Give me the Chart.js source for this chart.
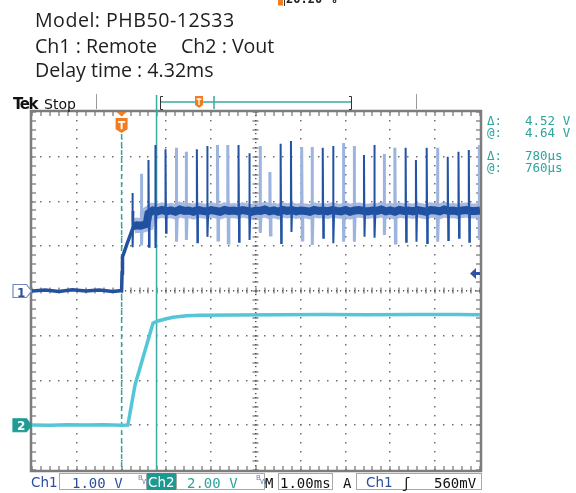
<!DOCTYPE html>
<html>
<head>
<meta charset="utf-8">
<title>PHB50-12S33 delay time</title>
<script src="https://cdn.jsdelivr.net/npm/chart.js@4.4.1/dist/chart.umd.min.js"></script>
<style>
  html, body { margin: 0; padding: 0; background: #fff; }
  #page { position: relative; width: 576px; height: 493px; overflow: hidden; }
  #scope { position: absolute; left: 0; top: 0; }
  .t { position: absolute; white-space: pre; line-height: 1; }
  .info { font-family: "Open Sans", sans-serif; font-size: 19.6px; color: #1e1e1e; }
  .mono { font-family: "DejaVu Sans Mono", monospace; }
  .meas { font-family: "DejaVu Sans Mono", monospace; font-size: 12.5px; color: #2fa39c; }
  .bar { font-family: "DejaVu Sans Mono", monospace; font-size: 14px; top: 476px; }
  .bw { font-family: "DejaVu Sans", sans-serif; font-size: 7px; color: #6a86b8; }
  .box { position: absolute; border: 1px solid #a8a8a8; box-sizing: border-box; top: 473px; height: 17px; }
</style>
</head>
<body>
<div id="page">
  <canvas id="scope" width="576" height="493"></canvas>

  <div class="t mono" style="left:286px;top:-7px;font-size:12px;font-weight:bold;color:#222">20.20 %</div>
  <div class="t info" style="left:35px;top:10px;letter-spacing:0.5px">Model: PHB50-12S33</div>
  <div class="t info" style="left:35px;top:36px">Ch1 : Remote</div>
  <div class="t info" style="left:181px;top:36px">Ch2 : Vout</div>
  <div class="t info" style="left:35px;top:60px">Delay time : 4.32ms</div>

  <div class="t" style="left:13px;top:95px;font:bold 15px 'DejaVu Sans';letter-spacing:-1.5px;color:#111">Tek</div>
  <div class="t" style="left:44px;top:96px;font:14px 'DejaVu Sans';color:#111">Stop</div>

  <div class="t meas" style="left:487px;top:115px">Δ:</div>
  <div class="t meas" style="left:525px;top:115px">4.52 V</div>
  <div class="t meas" style="left:487px;top:127px">@:</div>
  <div class="t meas" style="left:525px;top:127px">4.64 V</div>
  <div class="t meas" style="left:487px;top:150px">Δ:</div>
  <div class="t meas" style="left:525px;top:150px">780µs</div>
  <div class="t meas" style="left:487px;top:162px">@:</div>
  <div class="t meas" style="left:525px;top:162px">760µs</div>

  <div class="t" style="left:17px;top:286px;font:bold 12px 'DejaVu Sans';color:#2c4e9b">1</div>
  <div class="t" style="left:17px;top:419px;font:bold 12px 'DejaVu Sans';color:#fff">2</div>

  <div class="box" style="left:59px;width:88px"></div>
  <div class="box" style="left:147px;width:29px;background:#1c9a92;border-color:#1c9a92"></div>
  <div class="box" style="left:176px;width:89px"></div>
  <div class="box" style="left:278px;width:55px"></div>
  <div class="box" style="left:356px;width:126px"></div>
  <div class="t bar" style="left:31px;font-family:'DejaVu Sans';font-size:13.5px;color:#2c4e9b">Ch1</div>
  <div class="t bar" style="left:72px;color:#2c4e9b">1.00 V</div>
  <div class="t bw" style="left:138px;top:475px">B</div>
  <div class="t bw" style="left:142px;top:479px">W</div>
  <div class="t bar" style="left:148px;font-family:'DejaVu Sans';font-size:13.5px;color:#fff">Ch2</div>
  <div class="t bar" style="left:187px;color:#2ba39b">2.00 V</div>
  <div class="t bw" style="left:256px;top:475px">B</div>
  <div class="t bw" style="left:260px;top:479px">W</div>
  <div class="t bar" style="left:265px;color:#111">M</div>
  <div class="t bar" style="left:280px;color:#111">1.00ms</div>
  <div class="t bar" style="left:343px;color:#111">A</div>
  <div class="t bar" style="left:366px;font-family:'DejaVu Sans';font-size:13.5px;color:#2c4e9b">Ch1</div>
  <div class="t bar" style="left:402px;color:#111">ʃ</div>
  <div class="t bar" style="left:434px;color:#111">560mV</div>
</div>

<script>
// time axis: 1.00 ms/div, 10 div, trigger 3 div left of centre
var xMin = -5, xMax = 5;
var yDivs = 4;

// channel settings (V/div, ground position in div)
var ch1Scale = 1.00, ch1Offset = 0;
var ch2Scale = 2.00, ch2Offset = -3;

// cursors (ms)
var trigTime = -3.00;
var cursorTime = -2.22;
var trigLevelDiv = 0.39;

// Ch1 : Remote  -- baseline and edge (V)
var ch1Time = [-5.00, -4.70, -4.40, -4.10, -3.80, -3.50, -3.20, -3.00, -2.99, -2.98, -2.88, -2.74];
var ch1Volt = [0.00, 0.02, -0.01, 0.03, 0.00, 0.02, -0.01, 0.01, 0.40, 0.76, 1.05, 1.43];

// Ch1 settled level with noise (V)
var ch1BandTime = [
  -2.74, -2.66, -2.58, -2.50, -2.44, -2.40, -2.30, -2.20, -2.10, -2.00,
  -1.90, -1.80, -1.70, -1.60, -1.50, -1.40, -1.30, -1.20, -1.10, -1.00,
  -0.90, -0.80, -0.70, -0.60, -0.50, -0.40, -0.30, -0.20, -0.10, 0.00,
  0.10, 0.20, 0.30, 0.40, 0.50, 0.60, 0.70, 0.80, 0.90, 1.00,
  1.10, 1.20, 1.30, 1.40, 1.50, 1.60, 1.70, 1.80, 1.90, 2.00,
  2.10, 2.20, 2.30, 2.40, 2.50, 2.60, 2.70, 2.80, 2.90, 3.00,
  3.10, 3.20, 3.30, 3.40, 3.50, 3.60, 3.70, 3.80, 3.90, 4.00,
  4.10, 4.20, 4.30, 4.40, 4.50, 4.60, 4.70, 4.80, 4.90, 5.00
];
var ch1BandVolt = [
  1.45, 1.47, 1.46, 1.48, 1.50, 1.73, 1.80, 1.78, 1.81, 1.78,
  1.80, 1.77, 1.82, 1.79, 1.80, 1.77, 1.81, 1.79, 1.78, 1.81,
  1.79, 1.77, 1.81, 1.79, 1.80, 1.78, 1.81, 1.79, 1.77, 1.80,
  1.79, 1.82, 1.78, 1.80, 1.77, 1.81, 1.79, 1.81, 1.78, 1.80,
  1.79, 1.77, 1.81, 1.79, 1.80, 1.78, 1.81, 1.79, 1.78, 1.81,
  1.77, 1.80, 1.81, 1.79, 1.78, 1.80, 1.79, 1.82, 1.78, 1.80,
  1.77, 1.81, 1.79, 1.80, 1.78, 1.81, 1.79, 1.77, 1.81, 1.80,
  1.78, 1.82, 1.79, 1.80, 1.78, 1.80, 1.81, 1.79, 1.79, 1.80
];
var ch1Level = 1.79;

// Ch1 switching spikes: time (ms), peak (V), dip (V), d = current / l = persistence
var ch1SpikeTime = [-2.76, -2.56, -2.40, -2.25, -2.02, -1.78, -1.56, -1.32, -1.09, -0.86, -0.63, -0.39,
  -0.15, 0.09, 0.31, 0.55, 0.78, 1.02, 1.25, 1.49, 1.72, 1.95, 2.19, 2.41,
  2.64, 2.86, 3.10, 3.34, 3.57, 3.81, 4.05, 4.28, 4.52, 4.75, 4.98];
var ch1SpikeHigh = [2.19, 2.62, 2.93, 3.26, 3.17, 3.20, 3.11, 3.17, 3.24, 3.26, 3.26, 3.26,
  3.08, 3.24, 2.66, 3.29, 3.35, 3.22, 3.22, 3.20, 3.24, 3.31, 3.24, 3.04,
  3.26, 3.06, 3.20, 3.20, 2.93, 3.20, 3.20, 3.00, 3.11, 3.15, 3.26];
var ch1SpikeLow = [0.98, 1.02, 0.99, 0.96, 1.30, 1.10, 1.14, 1.09, 1.21, 1.14, 1.07, 1.10,
  1.14, 1.30, 1.25, 1.07, 1.32, 1.14, 1.03, 1.19, 1.07, 1.10, 1.10, 1.21,
  1.19, 1.25, 1.07, 1.10, 1.10, 1.07, 1.10, 1.14, 1.19, 1.10, 1.14];
var ch1SpikeShade = ["d", "l", "d", "d", "d", "l", "l", "d", "d", "l", "l", "d",
  "d", "l", "l", "d", "d", "l", "l", "d", "d", "l", "l", "d",
  "d", "l", "l", "d", "d", "d", "l", "d", "d", "d", "l"];

// Ch2 : Vout (V)
var ch2Time = [-5.00, -4.60, -4.20, -3.80, -3.40, -3.00, -2.86, -2.70, -2.30, -2.25, -2.19, -2.00,
  -1.85, -1.55, -1.25, -0.50, 0.50, 1.50, 2.50, 3.50, 4.50, 5.00];
var ch2Volt = [0.01, 0.00, 0.02, 0.01, 0.02, 0.00, 0.01, 1.80, 4.56, 4.61, 4.66, 4.76,
  4.83, 4.89, 4.92, 4.93, 4.94, 4.95, 4.94, 4.95, 4.95, 4.94];

function toPoints(times, volts, scale, offset) {
    return times.map(function (t, i) {
        return { x: t, y: volts[i] / scale + offset };
    });
}

function spikePoints(shade) {
    var pts = [];
    for (var i = 0; i < ch1SpikeTime.length; i++) {
        if (ch1SpikeShade[i] != shade) continue;
        var t = ch1SpikeTime[i];
        pts.push({ x: t, y: ch1Level / ch1Scale + ch1Offset });
        pts.push({ x: t, y: ch1SpikeHigh[i] / ch1Scale + ch1Offset });
        pts.push({ x: t + 0.012, y: ch1SpikeLow[i] / ch1Scale + ch1Offset });
        pts.push({ x: t + 0.024, y: ch1Level / ch1Scale + ch1Offset });
        pts.push({ x: t + 0.03, y: null });
    }
    return pts;
}

function trigIcon(ctx, x, top, w, h) {
    ctx.fillStyle = "#f07d22";
    ctx.beginPath();
    ctx.moveTo(x - w / 2, top);
    ctx.lineTo(x + w / 2, top);
    ctx.lineTo(x + w / 2, top + h * 0.75);
    ctx.lineTo(x, top + h);
    ctx.lineTo(x - w / 2, top + h * 0.75);
    ctx.closePath();
    ctx.fill();
    ctx.fillStyle = "#fff";
    ctx.fillRect(x - w * 0.3, top + h * 0.2, w * 0.6, Math.max(1.2, h * 0.12));
    ctx.fillRect(x - w * 0.08, top + h * 0.2, w * 0.16, h * 0.55);
}

function chanMarker(ctx, yc, fill, stroke) {
    ctx.beginPath();
    ctx.moveTo(13, yc - 6.5);
    ctx.lineTo(26.5, yc - 6.5);
    ctx.lineTo(31.5, yc);
    ctx.lineTo(26.5, yc + 6.5);
    ctx.lineTo(13, yc + 6.5);
    ctx.closePath();
    ctx.fillStyle = fill;
    ctx.fill();
    ctx.strokeStyle = stroke;
    ctx.lineWidth = 1.2;
    ctx.stroke();
}

var scopeDeco = {
    id: "scopeDeco",
    beforeDatasetsDraw: function (chart) {
        var ctx = chart.ctx, a = chart.chartArea;
        var xs = chart.scales.x, ys = chart.scales.y;
        ctx.save();

        // dotted graticule
        ctx.fillStyle = "#707070";
        for (var d = xMin + 1; d < xMax; d++) {
            if (d == 0) continue;
            var gx = Math.round(xs.getPixelForValue(d));
            for (var k = -yDivs * 5; k <= yDivs * 5; k++) {
                ctx.fillRect(gx - 1, Math.round(ys.getPixelForValue(k / 5)) - 1, 1.5, 1.5);
            }
        }
        for (var e = -yDivs + 1; e < yDivs; e++) {
            if (e == 0) continue;
            var gy = Math.round(ys.getPixelForValue(e));
            for (var m = xMin * 5; m <= xMax * 5; m++) {
                ctx.fillRect(Math.round(xs.getPixelForValue(m / 5)) - 1, gy - 1, 1.5, 1.5);
            }
        }

        // centre lines with ticks
        var cx = Math.round(xs.getPixelForValue(0)), cy = Math.round(ys.getPixelForValue(0));
        ctx.fillStyle = "#555";
        for (var n = -yDivs * 10; n <= yDivs * 10; n++) {
            ctx.fillRect(cx - 1, Math.round(ys.getPixelForValue(n / 10)) - 1, 1.5, 1.2);
        }
        for (var p = xMin * 10; p <= xMax * 10; p++) {
            ctx.fillRect(Math.round(xs.getPixelForValue(p / 10)) - 1, cy - 1, 1.2, 1.5);
        }
        for (var q = -yDivs * 5; q <= yDivs * 5; q++) {
            var ty = Math.round(ys.getPixelForValue(q / 5));
            ctx.fillRect(cx - 3.5, ty - 0.5, 6, 1);
            ctx.fillRect(a.left, ty - 0.5, 4, 1);
            ctx.fillRect(a.right - 4, ty - 0.5, 4, 1);
        }
        for (var r = xMin * 5; r <= xMax * 5; r++) {
            var tx = Math.round(xs.getPixelForValue(r / 5));
            ctx.fillRect(tx - 0.5, cy - 3.5, 1, 6);
            ctx.fillRect(tx - 0.5, a.top, 1, 4);
            ctx.fillRect(tx - 0.5, a.bottom - 4, 1, 4);
        }

        // frame
        ctx.strokeStyle = "#7c7c7c";
        ctx.lineWidth = 2.5;
        ctx.strokeRect(a.left - 1, a.top - 1, a.right - a.left + 2, a.bottom - a.top + 2);

        // cursors
        var c1 = xs.getPixelForValue(trigTime);
        var c2 = xs.getPixelForValue(cursorTime);
        ctx.strokeStyle = "#2ea7a2";
        ctx.lineWidth = 1.5;
        ctx.setLineDash([5, 3]);
        ctx.beginPath();
        ctx.moveTo(c1, a.top + 22);
        ctx.lineTo(c1, a.bottom);
        ctx.stroke();
        ctx.setLineDash([]);
        ctx.strokeStyle = "#3fa9a3";
        ctx.beginPath();
        ctx.moveTo(c2, 95);
        ctx.lineTo(c2, a.bottom);
        ctx.stroke();
        ctx.restore();
    },
    afterDraw: function (chart) {
        var ctx = chart.ctx, a = chart.chartArea;
        var xs = chart.scales.x, ys = chart.scales.y;
        ctx.save();

        // top status bar
        ctx.strokeStyle = "#9a9a9a";
        ctx.lineWidth = 1;
        ctx.beginPath();
        ctx.moveTo(96.5, 94); ctx.lineTo(96.5, 109);
        ctx.moveTo(416.5, 94); ctx.lineTo(416.5, 109);
        ctx.stroke();
        ctx.strokeStyle = "#39a9a2";
        ctx.lineWidth = 1.5;
        ctx.beginPath();
        ctx.moveTo(161, 102); ctx.lineTo(351, 102);
        ctx.moveTo(214, 96); ctx.lineTo(214, 109);
        ctx.stroke();
        ctx.strokeStyle = "#333";
        ctx.lineWidth = 1;
        ctx.beginPath();
        ctx.moveTo(163, 96.5); ctx.lineTo(160.5, 96.5); ctx.lineTo(160.5, 109.5); ctx.lineTo(163, 109.5);
        ctx.moveTo(349, 96.5); ctx.lineTo(351.5, 96.5); ctx.lineTo(351.5, 109.5); ctx.lineTo(349, 109.5);
        ctx.stroke();
        trigIcon(ctx, 199, 96, 8, 12);
        ctx.fillStyle = "#f07d22";
        ctx.fillRect(278, 0, 5, 5.5);
        ctx.fillStyle = "#333";
        ctx.fillRect(284, 0, 1, 6);

        // trigger marker on the graticule
        var tx = xs.getPixelForValue(trigTime);
        ctx.fillStyle = "#f07d22";
        ctx.beginPath();
        ctx.moveTo(tx - 5, a.top);
        ctx.lineTo(tx + 5, a.top);
        ctx.lineTo(tx, a.top + 4.5);
        ctx.closePath();
        ctx.fill();
        trigIcon(ctx, tx, a.top + 6, 12, 15);

        // channel ground markers
        chanMarker(ctx, ys.getPixelForValue(ch1Offset), "#fff", "#6f88c4");
        chanMarker(ctx, ys.getPixelForValue(ch2Offset), "#1f9c94", "#1f9c94");

        // trigger level arrow
        var ay = ys.getPixelForValue(trigLevelDiv);
        ctx.fillStyle = "#2f54a3";
        ctx.beginPath();
        ctx.moveTo(a.right - 10, ay);
        ctx.lineTo(a.right - 4, ay - 5.5);
        ctx.lineTo(a.right - 4, ay - 1.5);
        ctx.lineTo(a.right, ay - 1.5);
        ctx.lineTo(a.right, ay + 1.5);
        ctx.lineTo(a.right - 4, ay + 1.5);
        ctx.lineTo(a.right - 4, ay + 5.5);
        ctx.closePath();
        ctx.fill();
        ctx.restore();
    }
};

var bandPoints = toPoints(ch1BandTime, ch1BandVolt, ch1Scale, ch1Offset);

new Chart(document.getElementById("scope"), {
    type: "line",
    data: {
        datasets: [
            {
                label: "Ch1 spikes",
                data: spikePoints("d"),
                borderColor: "#2353a4",
                borderWidth: 2,
                order: 1
            },
            {
                label: "Ch1",
                data: bandPoints,
                borderColor: "#2050a0",
                borderWidth: 8,
                order: 2
            },
            {
                label: "Ch1 edge",
                data: toPoints(ch1Time, ch1Volt, ch1Scale, ch1Offset),
                borderColor: "#23509f",
                borderWidth: 3.5,
                order: 2
            },
            {
                label: "Ch1 spikes (persistence)",
                data: spikePoints("l"),
                borderColor: "#9db4de",
                borderWidth: 3,
                order: 3
            },
            {
                label: "Ch1 noise",
                data: bandPoints,
                borderColor: "rgba(80,118,196,0.5)",
                borderWidth: 15,
                order: 4
            },
            {
                label: "Ch2",
                data: toPoints(ch2Time, ch2Volt, ch2Scale, ch2Offset),
                borderColor: "#55c6d7",
                borderWidth: 3.5,
                order: 5
            }
        ]
    },
    options: {
        responsive: false,
        animation: false,
        spanGaps: false,
        layout: { padding: { left: 32, right: 96, top: 112, bottom: 23 } },
        elements: { point: { radius: 0 }, line: { tension: 0, borderCapStyle: "butt" } },
        plugins: { legend: { display: false }, tooltip: { enabled: false } },
        scales: {
            x: { type: "linear", min: xMin, max: xMax, display: false },
            y: { type: "linear", min: -yDivs, max: yDivs, display: false }
        }
    },
    plugins: [scopeDeco]
});
</script>
</body>
</html>
